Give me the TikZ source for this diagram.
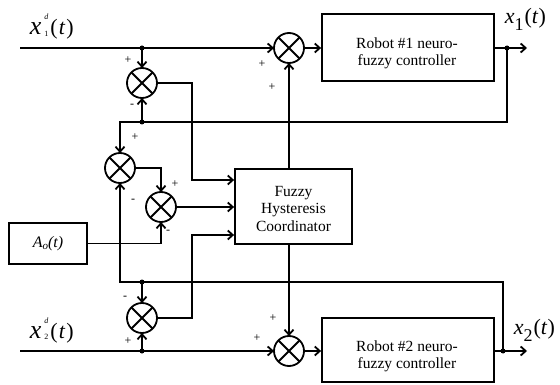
\documentclass[tikz,border=0pt]{standalone}
\usepackage{fontspec}
\setmainfont{Liberation Serif}
\usetikzlibrary{arrows.meta}

\begin{document}
\begin{tikzpicture}[x=1pt,y=-1pt,
  line width=1.8pt,
  sumnode/.style={circle,draw,minimum size=30pt,inner sep=0pt,outer sep=0pt},
  blockbox/.style={draw,rectangle,inner sep=0pt},
  boxtext/.style={align=center,font=\fontsize{15.5}{17.2}\selectfont,inner sep=0pt},
  sig/.style={font=\fontsize{12}{12}\selectfont,inner sep=0pt},
  dot/.style={circle,fill,inner sep=0pt,minimum size=5pt},
  arr/.style={-{Straight Barb[length=5pt,width=9pt]}},
  lbl/.style={inner sep=0pt,anchor=base west},
]
\useasboundingbox (0,0) rectangle (560,385);

% blocks
\node[blockbox,minimum width=172pt,minimum height=67pt] (r1) at (408,47.5) {};
\node[boxtext] (r1t) at (407,53) {Robot \#1 neuro-\\fuzzy controller};
\node[blockbox,minimum width=172pt,minimum height=64pt] (r2) at (408,350) {};
\node[boxtext] (r2t) at (407,356.5) {Robot \#2 neuro-\\fuzzy controller};
\node[blockbox,minimum width=117pt,minimum height=75pt] (co) at (293.5,206.5) {};
\node[boxtext] (cot) at (293.5,209) {Fuzzy\\Hysteresis\\Coordinator};
\node[blockbox,minimum width=78pt,minimum height=41pt] (ao) at (48,243.5) {\fontsize{16}{16}\selectfont\itshape A\raisebox{-2.5pt}{\fontsize{11}{11}\selectfont o}(t)};

% summing junctions
\node[sumnode] (s1) at (289,48) {};
\node[sumnode] (s2) at (289,351) {};
\node[sumnode] (sa) at (142,83) {};
\node[sumnode] (sb) at (120,168) {};
\node[sumnode] (sc) at (161,207) {};
\node[sumnode] (sd) at (142,318) {};
\foreach \s in {s1,s2,sa,sb,sc,sd} {
  \draw (\s.north west) -- (\s.south east) (\s.north east) -- (\s.south west);
}

% points
\coordinate (in1) at (20,48);
\coordinate (in2) at (20,351);
\coordinate (out1) at (527,48);
\coordinate (out2) at (527,351);
\node[dot] (j1) at (142,48) {};
\node[dot] (j2) at (142,351) {};
\node[dot] (jo1) at (507,48) {};
\node[dot] (jo2) at (503,351) {};
\node[dot] (jf1) at (142,122) {};
\node[dot] (jf2) at (142,282) {};
\coordinate (ka) at (192,180);
\coordinate (kd) at (192,235);

% connectors
\draw[arr] (in1) -- (s1.west);
\draw[arr] (j1.center) -- (sa.north);
\draw[arr] (s1.east) -- (s1.east -| r1.west);
\draw[arr] (r1.east |- out1) -- (out1);
\draw[arr] (jo1.center) |- (sb.north |- jf1.center) -- (sb.north);
\draw[arr] (jf1.center) -- (sa.south);
\draw[arr] (sa.east) -| (ka) -- (ka -| co.west);
\draw[arr] (sb.east) -| (sc.north);
\draw[arr] (sc.east) -- (sc.east -| co.west);
\draw[arr] (ao.east) -| (sc.south);
\draw[arr] (sd.east) -| (kd) -- (kd -| co.west);
\draw[arr] (jo2.center) |- (sb.south |- jf2.center) -- (sb.south);
\draw[arr] (jf2.center) -- (sd.north);
\draw[arr] (j2.center) -- (sd.south);
\draw[arr] (in2) -- (s2.west);
\draw[arr] (s2.east) -- (s2.east -| r2.west);
\draw[arr] (r2.east |- out2) -- (out2);
\draw[arr] (s1.south |- co.north) -- (s1.south);
\draw[arr] (s2.north |- co.south) -- (s2.north);

% signs
\node[sig] (pa1) at (128,60) {+};
\node[sig] (ma1) at (132,106) {-};
\node[sig] (pb1) at (135,137) {+};
\node[sig] (mb1) at (133,201) {-};
\node[sig] (pc1) at (175,184) {+};
\node[sig] (mc1) at (168,232) {-};
\node[sig] (md1) at (125,298) {-};
\node[sig] (pd1) at (128,341) {+};
\node[sig] (p11) at (262,64) {+};
\node[sig] (p12) at (272,87) {+};
\node[sig] (p21) at (273,318) {+};
\node[sig] (p22) at (257,338) {+};

% signal labels
\node[lbl] (lx1d) at (29,35) {{\fontsize{26}{26}\selectfont\itshape x}\hspace{3pt}\makebox[0pt][l]{\raisebox{15pt}{\fontsize{8}{8}\selectfont\itshape d}}\raisebox{-1.5pt}{\fontsize{8}{8}\selectfont 1}\hspace{2pt}{\fontsize{22}{22}\selectfont(\hspace{1pt}\textit{t}\hspace{1pt})}};
\node[lbl] (lx2d) at (29,338) {{\fontsize{26}{26}\selectfont\itshape x}\hspace{3pt}\makebox[0pt][l]{\raisebox{15pt}{\fontsize{8}{8}\selectfont\itshape d}}\raisebox{-1.5pt}{\fontsize{8}{8}\selectfont 2}\hspace{2pt}{\fontsize{22}{22}\selectfont(\hspace{1pt}\textit{t}\hspace{1pt})}};
\node[lbl] (lx1) at (504,24) {\fontsize{22}{22}\selectfont\textit{x}\raisebox{-7pt}{\fontsize{18}{18}\selectfont 1}\hspace{1pt}(\textit{t})};
\node[lbl] (lx2) at (513,334) {\fontsize{22}{22}\selectfont\textit{x}\raisebox{-7pt}{\fontsize{18}{18}\selectfont 2}\hspace{1pt}(\textit{t})};
\end{tikzpicture}
\end{document}
